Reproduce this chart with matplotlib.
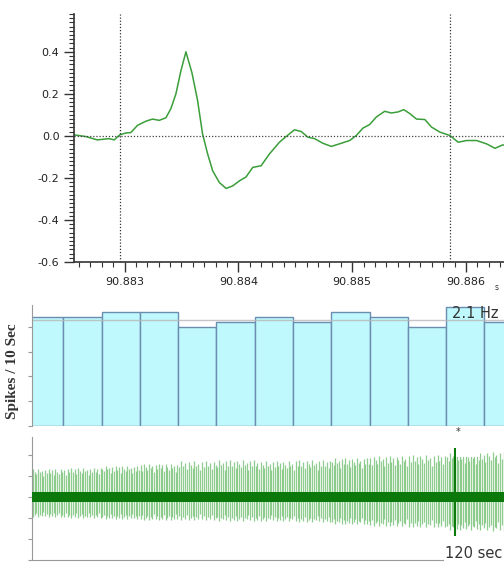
import numpy as np
import matplotlib
matplotlib.use("Agg")
import matplotlib.pyplot as plt
from matplotlib.ticker import MultipleLocator, FuncFormatter
from matplotlib.patches import Rectangle

plt.rcParams['axes.unicode_minus'] = False

# --- top panel: averaged spike waveform (time in s, amplitude) ---
wave_t = [90.882555, 90.882658, 90.882760, 90.882863, 90.882908, 90.882958, 90.883011,
          90.883055, 90.883113, 90.883187, 90.883245, 90.883304, 90.883363, 90.883407,
          90.883451, 90.883495, 90.883539, 90.883592, 90.883641, 90.883685, 90.883730,
          90.883774, 90.883833, 90.883892, 90.883950, 90.884009, 90.884068, 90.884126,
          90.884200, 90.884273, 90.884361, 90.884420, 90.884493, 90.884552, 90.884611,
          90.884670, 90.884743, 90.884817, 90.884905, 90.884978, 90.885037, 90.885095,
          90.885154, 90.885213, 90.885286, 90.885345, 90.885404, 90.885454, 90.885507,
          90.885566, 90.885639, 90.885698, 90.885771, 90.885859, 90.885932, 90.886006,
          90.886094, 90.886182, 90.886256, 90.886323, 90.886400]
wave_v = [0.005, -0.003, -0.019, -0.013, -0.019, 0.005, 0.014,
          0.016, 0.05, 0.07, 0.08, 0.074, 0.086, 0.13,
          0.2, 0.31, 0.40, 0.30, 0.17, 0.01, -0.086,
          -0.166, -0.222, -0.25, -0.238, -0.214, -0.195, -0.15,
          -0.142, -0.086, -0.03, -0.003, 0.029, 0.021, -0.006,
          -0.013, -0.035, -0.05, -0.035, -0.022, 0.002, 0.037,
          0.054, 0.09, 0.117, 0.109, 0.114, 0.125, 0.106,
          0.08, 0.078, 0.042, 0.018, 0.002, -0.03, -0.022,
          -0.022, -0.038, -0.059, -0.043, -0.05]
cursor_t = [90.882958, 90.885859]

# --- middle panel: spike counts per 10 s bin ---
bin_start = [0, 10, 20, 30, 40, 50, 60, 70, 80, 90, 100, 110, 120]
bin_count = [22, 22, 23, 23, 20, 21, 22, 21, 23, 22, 20, 24, 21]
mean_count = 21.3
rate_label = "2.1 Hz"

# --- bottom panel: raw trace, spike envelope per bin ---
env_top = [1.35, 1.4, 1.5, 1.6, 1.7, 1.75, 1.7, 1.75, 1.85, 1.95, 2.0, 2.1, 2.15]
env_bot = [-0.95, -1.0, -1.05, -1.1, -1.1, -1.15, -1.15, -1.2, -1.3, -1.4, -1.45, -1.55, -1.6]
height_ratio = [1.0, 0.86, 0.95, 0.78, 0.98, 0.9, 0.82, 1.0, 0.88, 0.93, 0.75, 0.97, 0.84]
noise_half = 0.24
star_t = 112.4
star_span = [-1.84, 2.34]

fig = plt.figure(figsize=(5.04, 5.62), dpi=100)

# top panel
ax1 = fig.add_axes([0.1468, 0.5338, 0.8532, 0.4413])
ax1.plot(wave_t, wave_v, color='#3a9e3a', lw=1.1)
ax1.axhline(0, color='#444444', ls=(0, (1, 1.5)), lw=0.9)
for c in cursor_t:
    ax1.axvline(c, color='#333333', ls=(0, (1, 1.5)), lw=0.9)
ax1.set_xlim(90.882555, 90.886335)
ax1.set_ylim(-0.6, 0.58)
ax1.xaxis.set_major_locator(MultipleLocator(0.001))
ax1.xaxis.set_minor_locator(MultipleLocator(0.0001))
ax1.xaxis.set_major_formatter(FuncFormatter(lambda x, p: f"{x:.3f}"))
ax1.yaxis.set_major_locator(MultipleLocator(0.2))
ax1.yaxis.set_minor_locator(MultipleLocator(0.02))
ax1.yaxis.set_major_formatter(FuncFormatter(lambda y, p: f"{y:.1f}"))
for s in ['top', 'right']:
    ax1.spines[s].set_visible(False)
for s in ['left', 'bottom']:
    ax1.spines[s].set_color('#333333')
    ax1.spines[s].set_linewidth(1.2)
ax1.tick_params(which='major', length=7, width=1, colors='#333333', labelsize=8, labelcolor='#222222')
ax1.tick_params(which='minor', length=3.5, width=0.8, colors='#333333')
fig.text(497 / 504, 1 - 288 / 562, "s", fontsize=5.5, ha='center', va='center', color='#333333')

# middle panel
ax2 = fig.add_axes([0.0641, 0.2425, 0.9359, 0.2148])
ax2.bar(bin_start, bin_count, width=10, align='edge', color='#bff9fd',
        edgecolor='#6b8db0', linewidth=1.0)
ax2.axhline(mean_count, color='#b8b8b8', lw=1.0, alpha=0.8)
ax2.set_xlim(1.9, 125.1)
ax2.set_ylim(0, 24.4)
ax2.yaxis.set_major_locator(MultipleLocator(5))
ax2.set_yticklabels([])
ax2.set_xticks([])
for s in ['top', 'right', 'bottom']:
    ax2.spines[s].set_visible(False)
ax2.spines['left'].set_color('#999999')
ax2.tick_params(axis='y', length=3, color='#999999')
ax2.set_ylabel("Spikes / 10 Sec", family='Liberation Serif', fontweight='bold',
               fontsize=11, color='#333333')
ax2.yaxis.set_label_coords(-0.028, 0.45)
ax2.text(452 / 504, 1 - 313 / 562, rate_label, transform=fig.transFigure,
         fontsize=10.5, color='#333333', va='center', ha='left')

# bottom panel
ax3 = fig.add_axes([0.0641, 0.0036, 0.9359, 0.2194])
k = 0
for i, b in enumerate(bin_start):
    n = bin_count[i]
    for j in range(n):
        t = b + (j + 0.5) * 10 / n
        r = height_ratio[k % len(height_ratio)]
        k += 1
        ax3.vlines(t, env_bot[i] * r, env_top[i] * r, color='#7cc47c', lw=0.9, alpha=0.85)
ax3.fill_between([0, 130], [-noise_half, -noise_half], [noise_half, noise_half],
                 color='#0a780a', lw=0, zorder=3)
ax3.vlines(star_t, star_span[0], star_span[1], color='#0a7a0a', lw=1.5, zorder=4)
ax3.add_patch(Rectangle((112.6, 1.91), 6.2, 1.5, facecolor='white', edgecolor='none',
                        zorder=5, clip_on=False))
ax3.text(113.1, 3.11, "*", fontsize=7, ha='center', va='center', color='#333333', zorder=6)
ax3.set_xlim(1.9, 125.1)
ax3.set_ylim(-3, 2.88)
ax3.yaxis.set_major_locator(MultipleLocator(1))
ax3.set_yticklabels([])
ax3.set_xticks([])
for s in ['top', 'right']:
    ax3.spines[s].set_visible(False)
ax3.spines['left'].set_color('#999999')
ax3.spines['bottom'].set_color('#999999')
ax3.spines['bottom'].set_bounds(1.9, 109.1)
ax3.tick_params(axis='y', length=3, color='#999999')
fig.text(445 / 504, 1 - 553 / 562, "120 sec", fontsize=10.5, color='#333333',
         ha='left', va='center')

fig.savefig("out.png", dpi=100)
